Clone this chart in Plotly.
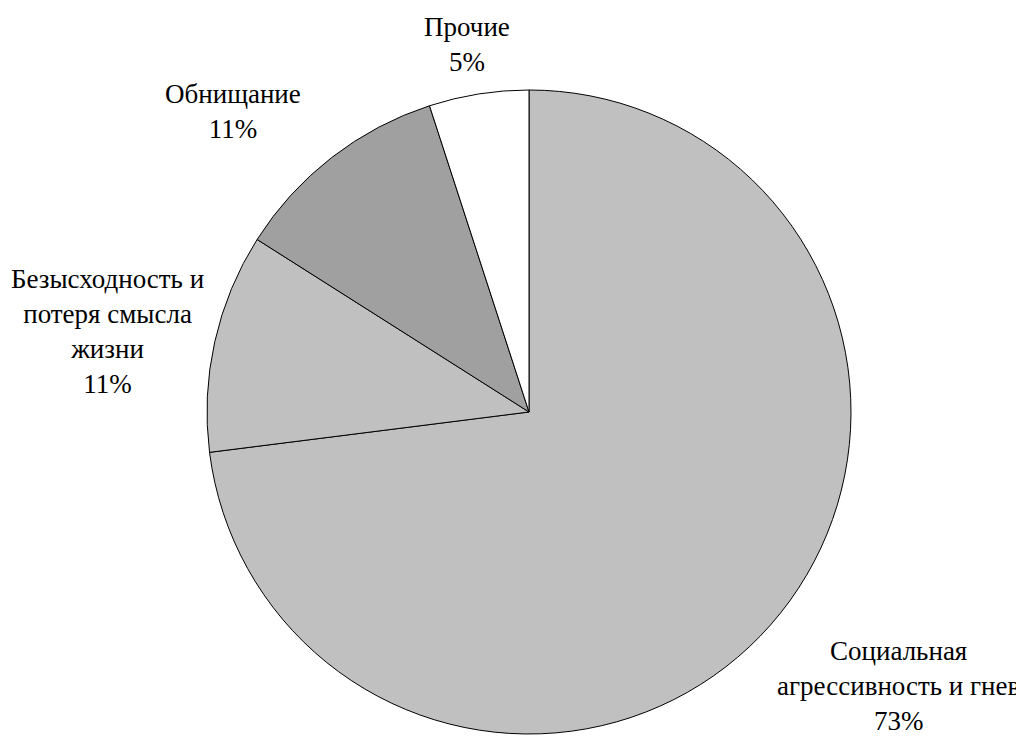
import plotly.graph_objects as go

labels = ["Социальная агрессивность и гнев", "Безысходность и потеря смысла жизни", "Обнищание", "Прочие"]
label_text = ["Социальная<br>агрессивность и гнев", "Безысходность и<br>потеря смысла<br>жизни", "Обнищание", "Прочие"]
values = [73, 11, 11, 5]
colors = ["#C0C0C0", "#C0C0C0", "#A0A0A0", "#FFFFFF"]
# label anchor positions in page pixels (center of text block)
label_px = [(898, 686), (107, 331), (233, 112), (467, 44)]

OFF = 8  # default body margin of the html page
W, H = 1024 - OFF, 737 - OFF
cx, cy, r = 529 - OFF, 412 - OFF, 322

fig = go.Figure(go.Pie(
    labels=labels,
    values=values,
    sort=False,
    direction="clockwise",
    rotation=0,
    marker=dict(colors=colors, line=dict(color="black", width=1)),
    textinfo="none",
    hoverinfo="label+percent",
    domain=dict(x=[(cx - r) / W, (cx + r) / W], y=[1 - (cy + r) / H, 1 - (cy - r) / H]),
    showlegend=False,
))

total = sum(values)
annotations = []
for txt, v, (px, py) in zip(label_text, values, label_px):
    annotations.append(dict(
        x=(px - OFF) / W, y=1 - (py - OFF) / H, xref="paper", yref="paper",
        text=f"{txt}<br>{round(100 * v / total)}%",
        showarrow=False, xanchor="center", yanchor="middle", align="center",
        font=dict(family="Liberation Serif", size=27, color="black"),
    ))

fig.update_layout(
    width=W, height=H,
    margin=dict(l=0, r=0, t=0, b=0),
    paper_bgcolor="white", plot_bgcolor="white",
    annotations=annotations,
)

fig.write_html("out.html")
